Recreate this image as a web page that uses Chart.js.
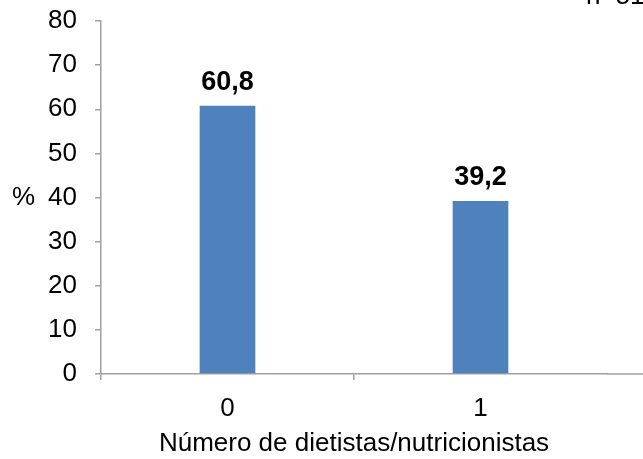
<!DOCTYPE html>
<html>
<head>
<meta charset="utf-8">
<script src="https://cdn.jsdelivr.net/npm/chart.js@4/dist/chart.umd.min.js"></script>
<style>
  html, body { margin: 0; padding: 0; background: #fff; }
  #wrap { width: 643px; height: 459px; position: relative; }
</style>
</head>
<body>
<div id="wrap"><canvas id="grafico"></canvas></div>
<script>
const categorias = ['0', '1'];
const porcentajes = [60.8, 39.2];
const ticksY = [0, 10, 20, 30, 40, 50, 60, 70, 80];

const fuente = "'Liberation Sans', Arial, sans-serif";
const gris = '#a0a0a0';

const extras = {
    id: 'extras',
    afterDatasetsDraw(chart) {
        const ctx = chart.ctx;
        const area = chart.chartArea;
        const y = chart.scales.y;
        ctx.save();
        // extend x axis line to the edge
        ctx.strokeStyle = gris;
        ctx.lineWidth = 1.5;
        ctx.beginPath();
        ctx.moveTo(area.right, area.bottom);
        ctx.lineTo(chart.width, area.bottom);
        ctx.stroke();

        // value labels
        ctx.fillStyle = '#000';
        ctx.font = 'bold 27px ' + fuente;
        ctx.textAlign = 'center';
        ctx.textBaseline = 'alphabetic';
        chart.getDatasetMeta(0).data.forEach((bar, i) => {
            ctx.fillText(porcentajes[i].toFixed(1).replace('.', ','), bar.x, bar.y - 16);
        });

        // % label
        ctx.font = '26px ' + fuente;
        ctx.textAlign = 'left';
        ctx.textBaseline = 'middle';
        ctx.fillText('%', 12, y.getPixelForValue(40));

        // clipped note in the corner
        ctx.textBaseline = 'alphabetic';
        ctx.fillText('n=51', 586, 4);
        ctx.restore();
    }
};

new Chart(document.getElementById('grafico'), {
    type: 'bar',
    data: {
        labels: categorias,
        datasets: [{
            data: porcentajes,
            backgroundColor: '#4f81bd',
            borderWidth: 0,
            barPercentage: 0.22,
            categoryPercentage: 1
        }]
    },
    options: {
        responsive: true,
        maintainAspectRatio: false,
        animation: false,
        layout: { padding: { left: 0, right: 36, top: 21, bottom: 0 } },
        plugins: {
            legend: { display: false },
            tooltip: { enabled: false }
        },
        scales: {
            x: {
                grid: {
                    drawOnChartArea: false,
                    tickLength: 6,
                    lineWidth: 1.5,
                    color: c => c.type === 'tick' ? gris : 'transparent'
                },
                border: { color: gris, width: 1.5 },
                ticks: {
                    color: '#000',
                    font: { family: fuente, size: 26 },
                    padding: 13
                },
                title: {
                    display: true,
                    text: 'Número de dietistas/nutricionistas',
                    color: '#000',
                    font: { family: fuente, size: 26 },
                    padding: { top: 0, bottom: 0 }
                },
                afterFit: s => { s.height = 85; s.paddingLeft = 0; s.paddingRight = 0; }
            },
            y: {
                min: 0,
                max: 80,
                afterBuildTicks: s => { s.ticks = ticksY.map(v => ({ value: v })); },
                grid: {
                    drawOnChartArea: false,
                    tickLength: 6,
                    lineWidth: 1.5,
                    color: gris
                },
                border: { color: gris, width: 1.5 },
                ticks: {
                    color: '#000',
                    font: { family: fuente, size: 26 },
                    padding: 18
                },
                afterFit: s => { s.width = 101; s.paddingTop = 0; s.paddingBottom = 0; }
            }
        }
    },
    plugins: [extras]
});
</script>
</body>
</html>
